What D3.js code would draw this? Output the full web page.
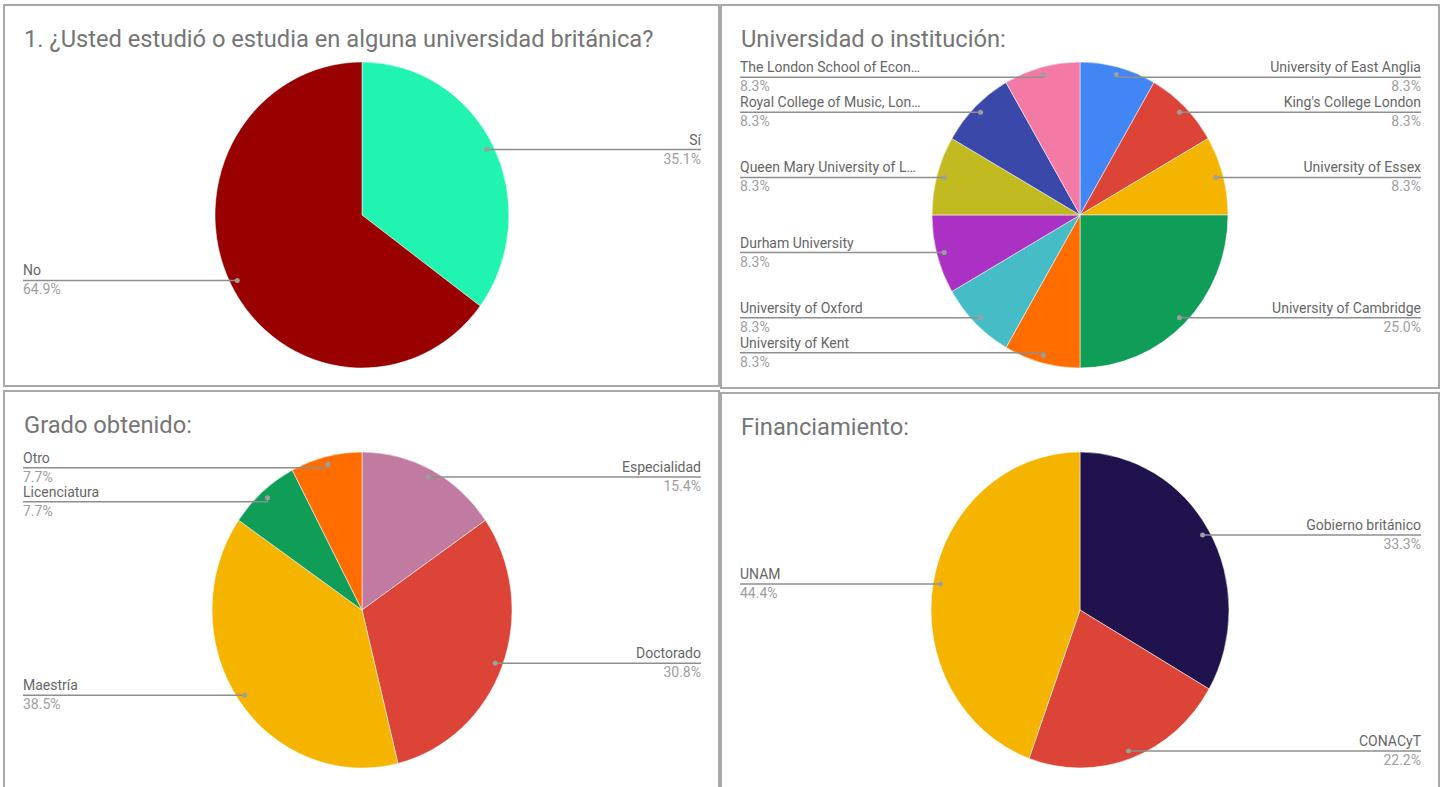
<!DOCTYPE html>
<html>
<head>
<meta charset="utf-8">
<script src="https://cdn.jsdelivr.net/npm/d3@7"></script>
<style>
  body { margin: 0; background: #fff; }
  text { font-family: Roboto, 'Noto Sans', sans-serif; }
</style>
</head>
<body>
<svg id="chart"></svg>
<script>
// data (response counts read from the percentages)
const estudioLabels = ['Sí', 'No']
const estudioValues = [13, 24]

const uniLabels = [
  'University of East Anglia', "King's College London", 'University of Essex',
  'University of Cambridge', 'University of Kent', 'University of Oxford',
  'Durham University', 'Queen Mary University of London',
  'Royal College of Music, London', 'The London School of Economics and Political Science'
]
const uniValues = [1, 1, 1, 3, 1, 1, 1, 1, 1, 1]

const gradoLabels = ['Especialidad', 'Doctorado', 'Maestría', 'Licenciatura', 'Otro']
const gradoValues = [2, 4, 5, 1, 1]

const finLabels = ['Gobierno británico', 'CONACyT', 'UNAM']
const finValues = [3, 2, 4]

// colours
const estudioColors = ['#21f4b0', '#990000']
const uniColors = ['#4285f4', '#db4437', '#f4b400', '#0f9d58', '#ff6d00',
  '#46bdc6', '#ab30c4', '#c1bb21', '#3a48aa', '#f47aa6']
const gradoColors = ['#c27ba0', '#db4437', '#f4b400', '#0f9d58', '#ff6d00']
const finColors = ['#20124d', '#db4437', '#f4b400']

const width = 1441
const height = 787
const labelW = 183
const pct = d3.format('.1%')

const panels = [
  { x0: 4, y0: 5, x1: 719, y1: 386, cx: 362, cy: 215, rx: 147, ry: 153,
    title: '1. ¿Usted estudió o estudia en alguna universidad británica?',
    labels: estudioLabels, values: estudioValues, colors: estudioColors },
  { x0: 721, y0: 5, x1: 1439, y1: 388, cx: 1080, cy: 215, rx: 148, ry: 153,
    title: 'Universidad o institución:',
    labels: uniLabels, values: uniValues, colors: uniColors },
  { x0: 4, y0: 391, x1: 719, y1: 800, cx: 362, cy: 610, rx: 150, ry: 158,
    title: 'Grado obtenido:',
    labels: gradoLabels, values: gradoValues, colors: gradoColors },
  { x0: 721, y0: 393, x1: 1439, y1: 800, cx: 1080, cy: 610, rx: 149, ry: 158,
    title: 'Financiamiento:',
    labels: finLabels, values: finValues, colors: finColors }
]

const svg = d3.select('#chart')
  .attr('width', width)
  .attr('height', height)

panels.forEach(drawPanel)

function drawPanel (p) {
  const g = svg.append('g')

  g.append('rect')
    .attr('x', p.x0).attr('y', p.y0)
    .attr('width', p.x1 - p.x0).attr('height', p.y1 - p.y0)
    .attr('fill', '#fff')
    .attr('stroke', '#a8a8a8')
    .attr('stroke-width', 2)

  g.append('text')
    .attr('x', p.x0 + 20)
    .attr('y', p.y0 + 42)
    .attr('font-size', 23.7)
    .attr('fill', '#757575')
    .text(p.title)

  const total = d3.sum(p.values)
  const arcs = d3.pie().sort(null).value(d => d)(p.values)
  const arc = d3.arc().innerRadius(0).outerRadius(p.rx)

  g.append('g')
    .attr('transform', `translate(${p.cx},${p.cy}) scale(1,${p.ry / p.rx})`)
    .selectAll('path')
    .data(arcs)
    .join('path')
    .attr('d', arc)
    .attr('fill', (d, i) => p.colors[i])
    .attr('stroke', '#fff')
    .attr('stroke-width', 0.5)

  // label anchors on the slices
  const items = arcs.map((d, i) => {
    const a = (d.startAngle + d.endAngle) / 2
    const dx = p.cx + 0.95 * p.rx * Math.sin(a)
    const dy = p.cy - 0.95 * p.ry * Math.cos(a)
    return { name: p.labels[i], value: p.values[i] / total, dx, dy, right: dx >= p.cx }
  })

  // keep labels inside the pie height and apart from each other
  const lo = p.cy - 0.9 * p.ry
  const hi = p.cy + 0.9 * p.ry
  const gap = 34
  ;[true, false].forEach(side => {
    const list = items.filter(d => d.right === side).sort((a, b) => a.dy - b.dy)
    list.forEach((d, i) => {
      d.ly = Math.max(lo, Math.min(hi, d.dy))
      if (i > 0) d.ly = Math.max(d.ly, list[i - 1].ly + gap)
    })
    for (let i = list.length - 1; i >= 0; i--) {
      if (i < list.length - 1) list[i].ly = Math.min(list[i].ly, list[i + 1].ly - gap)
      list[i].ly = Math.min(list[i].ly, hi)
    }
  })

  items.forEach(d => {
    const tx = d.right ? p.x1 - 18 : p.x0 + 19
    let knee = d.right ? tx - labelW : tx + labelW
    if (d.right) knee = Math.min(knee, d.dx)
    else knee = Math.max(knee, d.dx)

    g.append('line')
      .attr('x1', tx).attr('x2', knee)
      .attr('y1', d.ly).attr('y2', d.ly)
      .attr('stroke', '#8e8e8e')
      .attr('stroke-width', 1.5)
    g.append('line')
      .attr('x1', knee).attr('x2', d.dx)
      .attr('y1', d.ly).attr('y2', d.dy)
      .attr('stroke', '#9e9e9e')
      .attr('stroke-width', 1)
    g.append('circle')
      .attr('cx', d.dx).attr('cy', d.dy)
      .attr('r', 2.5)
      .attr('fill', '#9e9e9e')

    const name = g.append('text')
      .attr('x', tx)
      .attr('y', d.ly - 5)
      .attr('font-size', 14)
      .attr('fill', '#666')
      .attr('text-anchor', d.right ? 'end' : 'start')
      .text(d.name)
    truncate(name, d.name, 181)

    g.append('text')
      .attr('x', tx)
      .attr('y', d.ly + 14)
      .attr('font-size', 14)
      .attr('fill', '#9e9e9e')
      .attr('text-anchor', d.right ? 'end' : 'start')
      .text(pct(d.value))
  })
}

function truncate (sel, str, maxW) {
  const node = sel.node()
  if (node.getComputedTextLength() <= maxW) return
  let n = str.length
  while (n > 1) {
    n--
    sel.text(str.slice(0, n).trimEnd() + '…')
    if (node.getComputedTextLength() <= maxW) break
  }
}
</script>
</body>
</html>
